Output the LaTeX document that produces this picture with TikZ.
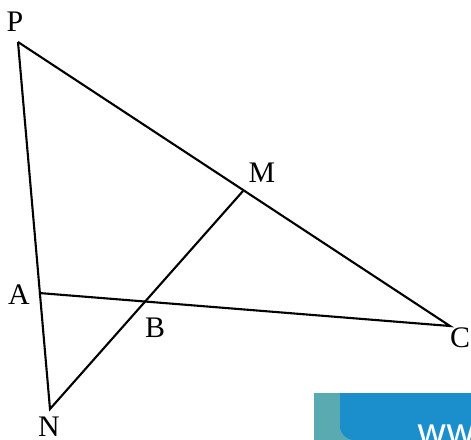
\documentclass[tikz,border=0pt]{standalone}
\usepackage{fontspec}
\setmainfont{Liberation Serif}
\usetikzlibrary{positioning, calc}
\definecolor{wmteal}{HTML}{5AAAB2}
\definecolor{wmblue}{HTML}{1A8FCB}
\tikzset{
	x=0.02cm, y=-0.02cm, % one unit is one pixel of the picture
	side/.style={line width=1.2pt, black}, % the lines of the figure
	lbl/.style={font=\fontsize{17}{20}\selectfont, inner sep=0pt}, % the point names
}

\begin{document}
\begin{tikzpicture}
	\useasboundingbox (0,0) rectangle (471,440);
	% the points
	\coordinate (P) at (18,42);
	\coordinate (C) at (450,326);
	\coordinate (N) at (50,409);
	\coordinate (A) at (39,293);
	\coordinate (M) at (243,191);
	\coordinate (B) at (intersection of A--C and N--M);
	% the lines
	\draw[side] (P) -- (N) -- (M);
	\draw[side] (P) -- (C) -- (A);
	% the names
	\node[lbl] (lP) at (15,22) {P};
	\node[lbl] (lM) at (262,173) {M};
	\node[lbl] (lA) at (19,295) {A};
	\node[lbl] (lB) at (155,328) {B};
	\node[lbl] (lC) at (460,338) {C};
	\node[lbl] (lN) at (49,427) {N};
	% the corner banner
	\fill[wmteal] (314,393) rectangle (471,440);
	\fill[wmblue, rounded corners=8] (340,393) -- (340,440) -- (480,440) -- (480,393) -- cycle;
	\fill[wmblue] (340,393) rectangle (471,420);
	\begin{scope}
		\clip (314,393) rectangle (471,440);
		\node[white, font=\fontsize{26}{30}\sffamily, anchor=base west, inner sep=0pt] (www) at (417,444) {www};
	\end{scope}
\end{tikzpicture}
\end{document}
